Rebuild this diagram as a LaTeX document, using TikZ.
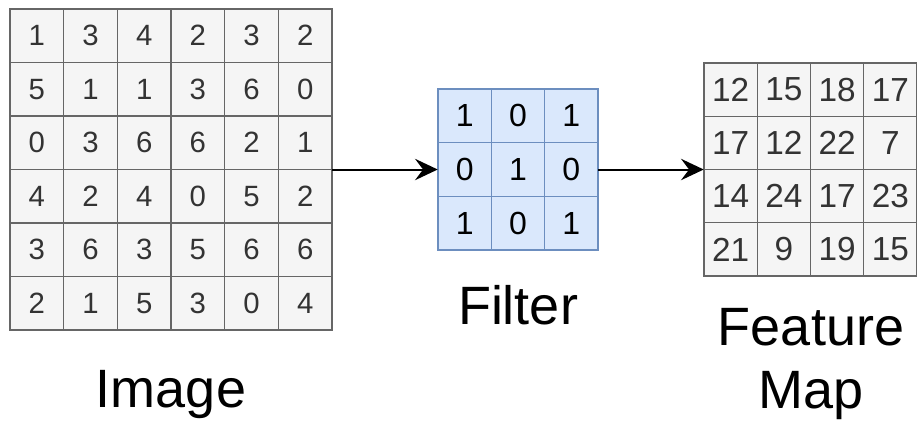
\documentclass[tikz,border=0pt]{standalone}
\usepackage{fontspec}
\setmainfont{Liberation Sans}
\usetikzlibrary{arrows.meta}
\definecolor{grayfill}{HTML}{F5F5F5}
\definecolor{grayline}{HTML}{666666}
\definecolor{grayfont}{HTML}{333333}
\definecolor{bluefill}{HTML}{DAE8FC}
\definecolor{blueline}{HTML}{6C8EBF}
\tikzset{
  graycell/.style={draw=grayline, fill=grayfill, line width=1.1pt, inner sep=0pt, text=grayfont},
  bluecell/.style={draw=blueline, fill=bluefill, line width=1.1pt, inner sep=0pt, text=black},
  gridbox/.style={inner sep=0pt, draw=none},
  labeltext/.style={inner sep=0pt, anchor=base, font=\fontsize{40.5}{47}\selectfont, text=black},
  conn/.style={line width=1.5pt, -{Stealth[length=17pt, width=16pt, inset=6pt]}},
}
\begin{document}
\begin{tikzpicture}[x=0.75pt, y=-0.75pt]
\useasboundingbox (0,0) rectangle (917,422);
% grid frames (invisible, for connectors)
\node[gridbox, minimum width=241.5pt, minimum height=240.75pt] (image) at (171,169.5) {};
\node[gridbox, minimum width=120pt, minimum height=120.75pt] (filter) at (518,169.5) {};
\node[gridbox, minimum width=159.75pt, minimum height=159.75pt] (feature) at (810.5,169.5) {};
% image cells
\foreach \row [count=\r] in {{1,3,4,2,3,2},{5,1,1,3,6,0},{0,3,6,6,2,1},{4,2,4,0,5,2},{3,6,3,5,6,6},{2,1,5,3,0,4}}{
  \foreach \v [count=\c] in \row {
    \node[graycell, minimum width=40.25pt, minimum height=40.1pt, font=\fontsize{22}{26}\selectfont]
      (img-\r-\c) at ({10+53.67*(\c-0.5)},{9+53.5*(\r-0.5)}) {\v};
  }
}
% filter cells
\foreach \row [count=\r] in {{1,0,1},{0,1,0},{1,0,1}}{
  \foreach \v [count=\c] in \row {
    \node[bluecell, minimum width=40pt, minimum height=40.25pt, font=\fontsize{24}{28}\selectfont]
      (flt-\r-\c) at ({438+53.33*(\c-0.5)},{89+53.67*(\r-0.5)}) {\v};
  }
}
% feature map cells
\foreach \row [count=\r] in {{12,15,18,17},{17,12,22,7},{14,24,17,23},{21,9,19,15}}{
  \foreach \v [count=\c] in \row {
    \node[graycell, minimum width=39.94pt, minimum height=39.94pt, font=\fontsize{25}{29}\selectfont]
      (fm-\r-\c) at ({704+53.25*(\c-0.5)},{63+53.25*(\r-0.5)}) {\v};
  }
}
% connectors
\draw[conn] (image.east) -- (filter.west);
\draw[conn] (filter.east) -- (feature.west);
% labels
\node[labeltext] (imagelabel) at (171,407) {Image};
\node[labeltext] (filterlabel) at (518,324) {Filter};
\node[labeltext, align=center] (featurelabel) at (811,408) {Feature\\Map};
\end{tikzpicture}
\end{document}
